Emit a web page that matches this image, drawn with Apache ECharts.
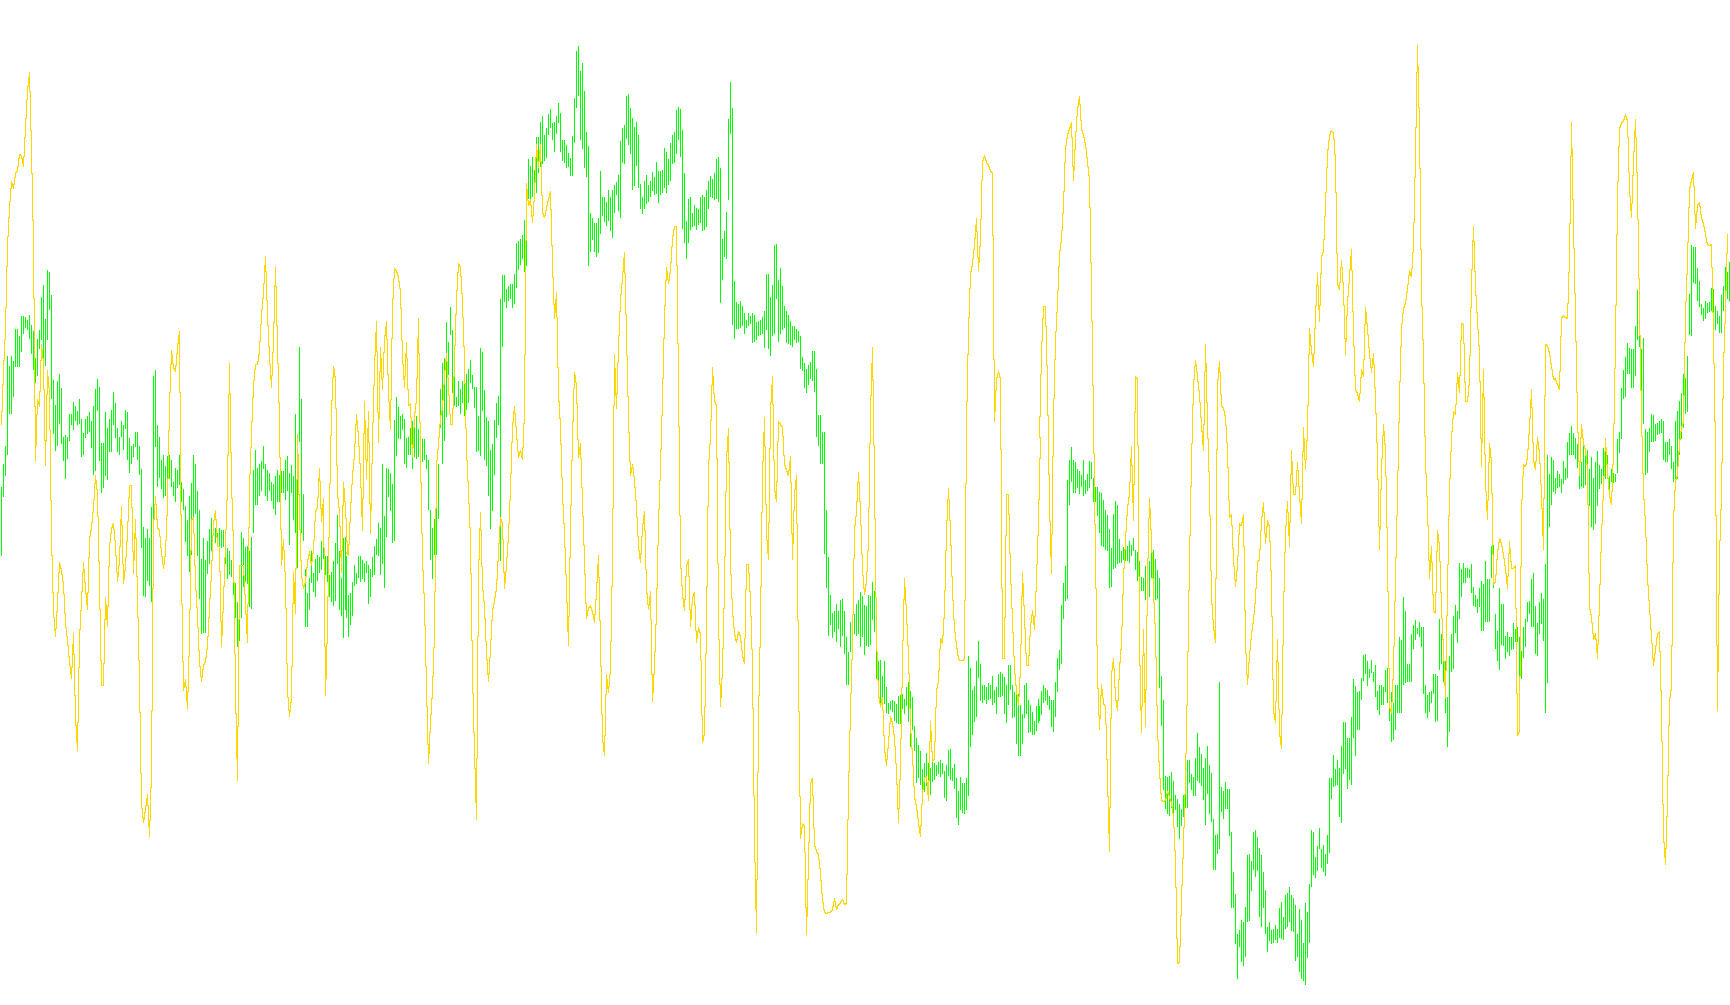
<!DOCTYPE html>
<html><head><meta charset="utf-8"><style>html,body{margin:0;background:#fff}#c{width:1730px;height:1005px}</style>
<script src="https://cdn.jsdelivr.net/npm/echarts@6/dist/echarts.min.js"></script></head><body><div id="c"></div><script>
const high=[758,722,694,555,570,554,562,512,512,524,492,492,494,498,490,506,516,558,528,514,462,444,496,420,424,460,592,630,594,582,604,680,678,680,644,644,626,632,640,622,652,674,652,648,642,656,632,606,590,602,690,690,642,666,652,638,610,628,666,680,656,662,638,642,682,694,692,672,672,694,730,820,838,824,838,790,586,576,662,680,716,708,726,710,708,716,750,728,732,708,750,762,788,810,772,752,708,722,764,794,870,838,872,842,824,806,814,822,830,822,826,826,840,854,858,872,864,908,938,964,828,838,852,850,858,836,732,700,728,722,718,694,722,732,736,750,754,742,732,740,734,734,716,710,736,724,
742,644,718,540,622,770,886,924,900,858,892,870,864,868,842,840,866,866,896,890,874,846,802,858,900,838,836,866,926,924,906,880,892,866,866,872,876,874,880,886,868,850,840,814,822,722,804,728,730,736,754,654,618,634,648,644,652,682,680,666,656,662,648,668,682,684,684,708,716,794,822,808,782,722,606,566,558,502,532,478,514,586,618,594,606,594,582,582,574,560,584,602,602,648,542,548,608,650,656,700,692,654,628,616,466,428,428,450,446,442,442,426,378,376,372,366,342,304,248,258,244,264,214,214,190,180,210,200,178,170,192,190,180,160,176,218,218,226,238,246,212,152,80,72,110,
98,142,206,228,332,340,348,348,340,266,306,306,314,296,306,296,288,284,272,220,200,194,150,146,168,184,198,190,210,286,306,282,272,288,282,268,276,252,266,266,264,230,236,248,222,210,206,172,166,170,202,270,344,310,306,332,320,324,326,306,304,306,296,282,274,278,270,248,244,262,372,360,330,186,128,168,438,470,474,468,476,488,498,488,492,488,490,502,500,498,494,484,426,426,462,444,382,380,436,418,446,476,484,490,500,508,508,512,516,524,556,566,574,568,564,546,546,574,646,646,672,672,794,868,926,954,952,940,952,934,932,952,992,1016,968,956,956,940,934,922,928,942,944,926,928,
906,920,940,1030,1028,1052,1030,1070,1094,1092,1090,1092,1096,1084,1082,1080,1088,1070,1062,1076,1086,1130,1150,1160,1170,1198,1188,1172,1188,1196,1184,1188,1192,1186,1184,1188,1200,1192,1168,1166,1196,1190,1212,1232,1210,1220,1220,1212,1022,1040,1074,1068,1030,998,1034,1066,1066,1070,1064,1066,1052,1074,1070,1050,1046,1050,1054,1066,1036,1036,1066,1078,1072,1080,1098,1112,1066,1064,1090,1098,1108,1122,1100,1088,1100,1076,1066,1072,1074,1084,1090,1090,1062,1024,1012,942,908,882,748,716,696,716,720,730,734,740,716,748,738,718,720,744,758,758,766,768,778,794,802,824,854,800,780,786,840,858,852,844,850,842,848,838,856,860,874,898,900,882,896,874,832,856,870,888,900,
1052,1090,1208,1210,1208,1202,1216,1238,1244,1252,1260,1238,1212,1184,1184,1206,1210,1180,1142,1164,1174,1196,1180,1162,1192,1204,1276,1300,1298,1062,1226,1232,1218,1228,1228,1296,1358,1392,1454,1448,1432,1436,1412,1332,1330,1340,1296,1292,1304,1320,1332,1358,1386,1444,1436,1448,1446,1440,1446,1414,1404,1428,1394,1390,1382,1394,1398,1410,1454,1416,1432,1468,1406,1420,1376,1292,1296,1334,1318,1290,1322,1316,1330,1300,1212,1212,1176,1198,1184,1196,1162,1124,1124,1150,1150,1116,1058,1068,1078,1076,1056,1020,1018,1030,1042,1028,1046,1036,1076,1066,1066,1070,1044,1040,1050,1078,1094,1066,1066,992,996,930,952,1034,1034,988,974,966,978,968,976,976,1066,1082,1078,1076,1050,1050,1052,964,988,1018,1030,1086,1022,
988,960,942,952,876,886,876,884,884,886,878,914,926,932,916,904,910,874,902,902,850,848,956,982,916,940,940,990,984,992,992,970,980,976,992,1014,976,964,938,936,902,892,944,970,938,924,932,878,708,738,712,716,744,734,738,746,718,728,688,674,664,674,682,692,720,720,692,706,700,730,712,744,720,702,724,730,698,702,708,742,730,736,738,684,672,604,576,556,534,542,544,544,508,452,486,544,526,668,672,666,644,646,660,658,656,652,656,688,688,684,694,720,656,640,624,612,582,588,554,458,382,384,384,418,438,474,480,468,472,470,448,450,476,484,492,460,446,416,424,408];
const low=[866,774,742,708,644,644,618,572,572,572,548,520,510,514,528,552,576,596,586,544,530,560,570,530,482,622,676,702,694,660,692,718,746,714,686,662,670,656,662,660,712,708,682,676,672,698,740,734,640,718,768,760,742,748,704,704,662,682,704,708,680,700,668,716,736,722,712,696,716,740,854,928,930,904,912,938,822,696,758,744,762,776,772,760,746,758,772,782,760,756,782,794,844,866,890,864,808,800,866,932,988,986,986,894,878,858,830,846,850,852,854,852,878,902,896,898,926,962,1008,998,962,914,906,910,946,948,830,786,786,772,764,730,772,780,764,780,792,802,782,782,768,768,778,764,848,768,
810,830,884,688,830,842,976,976,950,908,922,930,904,892,888,870,896,906,930,938,944,936,878,950,960,994,950,962,992,974,960,912,910,900,906,902,906,892,940,930,898,896,864,866,896,878,916,836,774,796,846,842,710,684,684,670,722,728,708,708,730,712,714,712,714,720,716,730,794,872,902,864,864,808,666,722,686,650,584,522,612,632,634,632,644,628,648,638,628,596,606,636,704,702,710,640,716,726,772,824,796,740,682,662,874,540,470,480,468,466,480,474,448,420,412,404,424,414,310,310,306,306,300,270,260,256,250,246,210,200,218,236,208,192,236,250,254,262,260,274,274,222,168,150,218,
232,262,276,414,392,374,392,400,394,364,336,346,352,344,360,370,332,304,328,340,254,256,216,226,240,296,290,258,292,326,334,326,318,314,306,298,304,302,316,304,300,292,300,288,282,256,254,240,218,244,356,378,404,378,358,354,352,358,350,348,360,358,354,326,306,308,312,310,314,472,436,400,404,312,208,506,528,512,512,510,508,520,510,508,504,534,532,530,524,522,520,542,514,544,554,524,520,466,532,520,514,510,534,536,538,540,530,534,532,574,578,604,612,600,590,594,610,680,694,722,722,862,916,990,974,994,984,1000,980,1008,990,1018,1066,1066,1016,1002,988,990,988,1008,992,1020,1006,1008,1004,
966,984,1058,1078,1098,1096,1096,1110,1112,1106,1108,1122,1126,1128,1128,1104,1112,1100,1124,1164,1136,1170,1220,1212,1222,1254,1234,1224,1222,1238,1218,1214,1208,1206,1210,1206,1242,1248,1208,1214,1216,1228,1274,1284,1262,1266,1268,1262,1240,1164,1144,1124,1116,1056,1092,1094,1090,1096,1090,1088,1098,1094,1112,1086,1086,1084,1112,1126,1098,1074,1118,1116,1158,1178,1178,1158,1118,1112,1142,1140,1144,1144,1138,1126,1122,1114,1094,1092,1098,1106,1132,1140,1116,1078,1044,1034,964,936,932,786,750,768,768,760,770,758,772,770,764,760,746,782,782,804,830,850,852,856,858,916,914,886,884,878,876,876,872,874,874,876,866,858,888,904,906,920,920,934,960,930,900,936,934,932,1072,
1130,1230,1260,1268,1270,1258,1270,1262,1288,1306,1286,1272,1258,1258,1220,1230,1240,1240,1216,1220,1224,1246,1284,1236,1268,1280,1354,1354,1330,1322,1264,1276,1260,1260,1302,1414,1414,1470,1524,1474,1498,1504,1490,1436,1434,1388,1354,1366,1356,1428,1444,1414,1454,1482,1466,1470,1468,1464,1468,1460,1462,1464,1446,1444,1436,1450,1452,1496,1490,1514,1524,1528,1534,1492,1468,1382,1362,1368,1356,1322,1352,1358,1364,1346,1328,1244,1226,1224,1222,1272,1282,1206,1198,1228,1214,1222,1150,1178,1136,1136,1090,1060,1050,1068,1056,1048,1062,1086,1106,1114,1098,1098,1078,1094,1122,1156,1152,1136,1110,1110,1110,1066,1064,1062,1062,1062,1010,996,988,992,1008,1080,1110,1118,1108,1094,1080,1124,1122,1044,1034,1062,1110,1164,1140,
1046,1042,986,1002,964,930,908,908,900,900,924,944,946,954,946,982,982,968,968,968,900,916,1010,1030,1044,1004,1006,1026,1016,1022,1012,1010,1000,1000,1068,1058,1024,1008,968,956,976,976,1018,1022,988,972,998,1110,1064,820,786,766,770,760,758,768,754,748,744,708,708,708,714,728,762,758,760,756,756,788,820,826,816,788,762,754,748,746,746,766,750,752,750,736,706,684,622,618,582,582,604,604,586,530,540,662,660,740,736,704,688,688,686,678,676,674,716,720,720,708,730,750,752,746,708,684,666,644,642,522,524,440,442,468,478,490,500,496,488,486,484,500,514,504,518,518,484,472,466,468];
const signal=[660,578,510,382,322,282,292,270,264,240,242,258,198,140,112,232,380,716,622,632,535,566,724,576,612,835,950,990,938,875,888,910,970,997,1030,1056,985,1115,1168,995,935,875,915,948,840,820,790,740,770,908,1066,1066,930,975,850,822,815,850,905,870,788,908,880,830,756,756,892,808,926,1062,1250,1280,1260,1236,1302,1200,820,772,820,825,860,884,860,782,632,545,572,578,540,516,895,1075,1058,1102,995,810,805,905,960,1030,1060,1035,1030,1005,945,890,815,794,850,850,1006,935,845,755,565,750,850,1075,1214,880,880,880,940,1000,760,675,600,567,567,545,490,455,398,490,555,603,530,415,535,655,880,840,905,1075,1115,
1085,890,955,676,800,895,915,905,875,858,880,855,795,790,728,812,775,1082,975,790,640,570,590,770,795,890,750,790,860,865,795,740,705,645,680,735,825,625,745,640,830,685,570,500,688,540,605,530,500,610,668,480,418,420,432,455,555,603,532,630,628,712,650,620,495,710,870,940,1070,1188,1125,1075,985,725,690,650,635,585,550,600,660,660,560,465,410,415,470,560,700,765,840,1050,1170,1275,895,798,910,945,1015,1060,1010,950,935,915,860,805,815,915,880,832,760,665,632,675,712,700,715,640,285,320,310,345,302,225,260,225,330,338,322,310,298,410,495,455,610,665,770,830,915,1005,820,680,580,600,712,
690,780,870,962,945,942,952,968,920,865,1000,1150,1175,1050,1078,1040,870,552,635,540,465,432,392,520,650,740,722,748,790,850,875,820,795,915,948,920,1092,1035,950,815,725,620,495,415,440,420,370,352,352,595,870,925,950,880,870,975,930,922,1000,976,985,1155,1140,975,725,680,572,625,630,960,1100,1040,915,715,666,875,950,985,1000,982,990,1020,1032,878,878,935,1035,1305,1452,1120,970,740,650,830,870,640,585,760,780,655,660,665,722,730,740,710,870,770,740,1040,1305,1282,1285,1455,1340,1220,1212,1315,1325,1330,1360,1400,1420,1422,1420,1420,1415,1398,1415,1408,1405,1400,1408,1405,1232,1105,1000,825,795,735,795,885,925,905,840,
640,540,745,990,1080,1100,1085,1165,1192,1155,1115,1125,1150,1200,1280,1190,1030,900,955,1020,1130,1175,1240,1255,1280,1302,1235,1210,1208,1245,1122,1185,1180,1075,1060,993,1002,950,825,760,825,920,978,1005,1025,1028,1027,1025,660,515,425,410,380,340,420,370,250,242,252,255,265,270,655,590,578,590,1025,1025,770,770,890,965,1040,1075,1098,1040,890,960,1035,1035,975,950,980,900,810,680,550,477,477,600,785,892,650,530,470,395,370,320,230,210,200,190,280,215,170,150,200,210,225,250,280,450,650,870,1050,1135,1065,1095,1100,1210,1325,1050,1025,1085,1105,1040,1000,900,840,790,770,695,810,585,590,1000,1140,980,1130,900,775,840,920,985,1135,
1200,1245,1248,1245,1232,1240,1250,1270,1340,1500,1498,1400,1315,1210,1060,870,720,600,560,585,615,660,700,535,655,760,930,975,1000,600,562,630,635,650,700,805,800,870,913,880,815,818,800,1000,1065,1020,985,965,930,875,870,810,782,845,810,820,910,1105,1125,995,1140,1165,950,830,780,850,700,770,770,720,770,815,665,730,670,510,545,570,490,425,500,400,390,320,240,210,202,205,250,440,450,405,450,552,470,430,388,515,605,612,625,575,585,478,510,550,580,550,620,710,855,730,660,700,860,1100,1110,1040,900,770,620,510,480,470,450,420,430,380,240,70,200,450,555,720,790,900,850,950,955,825,850,945,1010,1085,915,
765,680,640,645,580,610,503,505,625,625,590,440,352,445,500,550,725,575,750,808,690,720,910,905,860,838,845,865,885,915,843,885,885,880,1145,1138,795,722,725,710,665,605,715,730,680,705,770,855,535,537,550,570,590,588,598,605,495,490,493,495,400,190,350,490,650,740,660,690,700,730,945,960,995,985,1025,935,835,760,682,735,770,785,700,530,310,200,190,188,178,187,295,338,250,185,295,480,650,765,815,900,945,990,1035,1010,985,982,1105,1300,1345,1245,1090,1070,810,747,738,690,665,655,490,405,295,280,268,355,320,315,340,348,365,380,382,380,520,700,1105,865,770,570,480,365];
const bars=high.map((h,i)=>i);
const chart=echarts.init(document.getElementById('c'));
function col(x,y0,y1,fill){const t=Math.min(y0,y1);return{type:'rect',shape:{x,y:t,width:1,height:Math.max(y0,y1)-t+1},style:{fill}};}
chart.setOption({animation:false,backgroundColor:'#fff',
grid:{left:0.5,top:0,width:1730,height:1005},
xAxis:{type:'category',data:bars,show:false,boundaryGap:true},
yAxis:{type:'value',min:0,max:1565,inverse:true,show:false},
series:[
{type:'custom',silent:true,z:1,data:bars.map(i=>[i,high[i],low[i]]),
 renderItem(p,api){const a=api.coord([api.value(0),api.value(1)]),b=api.coord([api.value(0),api.value(2)]);
  return col(Math.floor(a[0]),Math.round(a[1]),Math.round(b[1])-1,'#00ff00');}},
{type:'custom',silent:true,z:2,data:bars.slice(0,-1).map(i=>[i,signal[i],i+1,signal[i+1]]),
 renderItem(p,api){const a=api.coord([api.value(0),api.value(1)]),b=api.coord([api.value(2),api.value(3)]);
  const x=Math.floor(a[0]),y0=Math.round(a[1]),y1=Math.round(b[1]),d=y1-y0,q=y0+Math.round(d/4),r=y0+Math.round(3*d/4);
  return{type:'group',children:[col(x,y0,q,'#ffd700'),col(x+1,q,r,'#ffd700'),col(x+2,r,y1,'#ffd700')]};}}
]});
</script></body></html>
